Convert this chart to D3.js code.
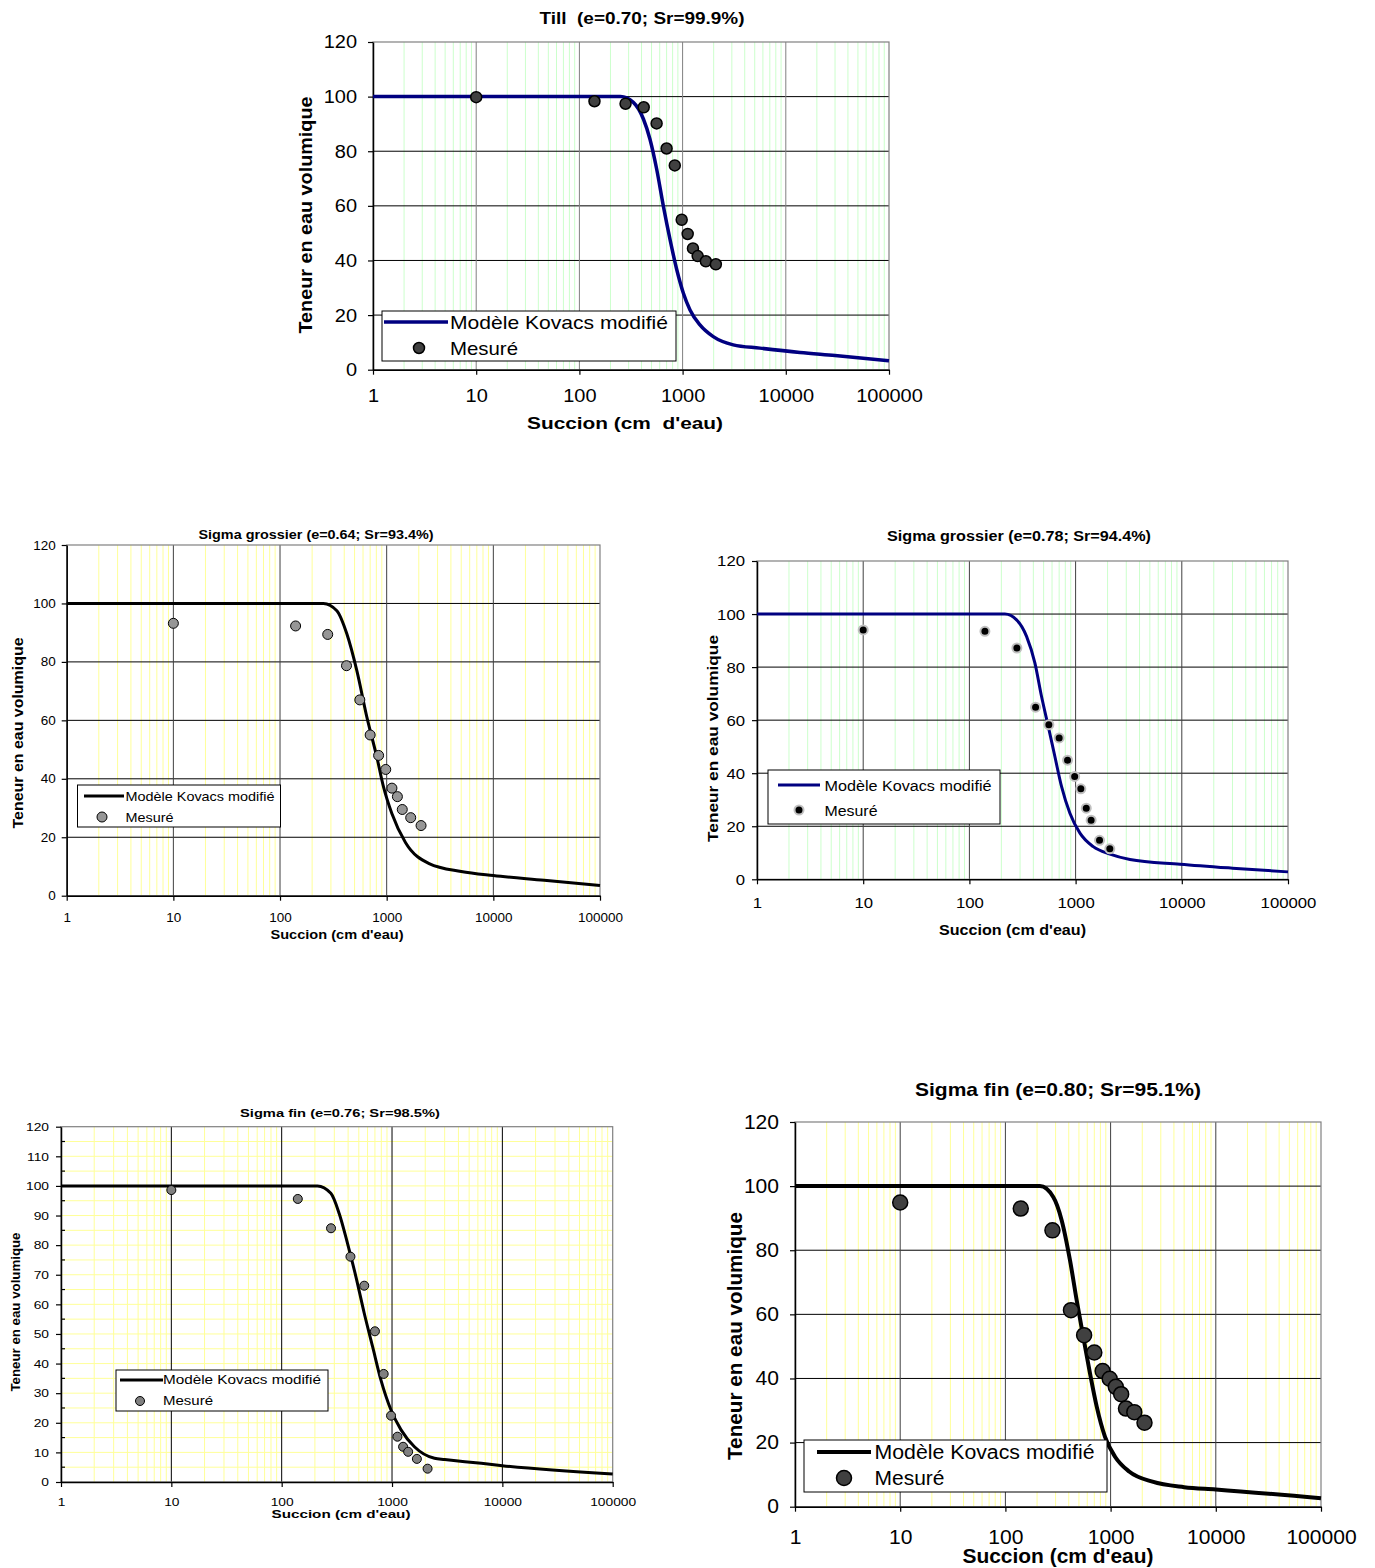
<!DOCTYPE html>
<html>
<head>
<meta charset="utf-8">
<script src="https://cdn.jsdelivr.net/npm/d3@7/dist/d3.min.js"></script>
<style>
  body { margin: 0; background: #fff; }
  svg { display: block; font-family: "Liberation Sans", Arial, sans-serif; }
  text { white-space: pre; }
</style>
</head>
<body>
<script>
// ---- data ----
var succion = [10, 140, 280, 420, 560, 700, 840, 980, 1120, 1260, 1400, 1680, 2100];

var mesureTill = [99.8, 98.3, 97.4, 96.1, 90.2, 81.0, 74.8, 54.9, 49.7, 44.4, 41.6, 39.7, 38.6];
var mesureGros64 = [93.2, 92.3, 89.4, 78.7, 67.0, 55.0, 48.0, 43.2, 36.8, 33.9, 29.5, 26.7, 24.0];
var mesureGros78 = [94.0, 93.5, 87.2, 64.9, 58.3, 53.3, 44.9, 38.8, 34.1, 26.8, 22.3, 14.7, 11.5];
var mesureFin76 = [98.6, 95.6, 85.7, 76.1, 66.3, 50.9, 36.5, 22.4, 15.3, 11.9, 10.2, 7.8, 4.5];
var mesureFin80 = [94.9, 93.0, 86.2, 61.3, 53.5, 48.1, 42.3, 39.9, 37.4, 35.1, 30.6, 29.5, 26.2];

var modeleTillX = [1, 250, 333, 417, 483, 561, 651, 755, 877, 1016, 1180, 1473, 1982, 3095, 5610, 13700, 30000, 100000];
var modeleTillY = [100, 100, 97.9, 91.8, 84.4, 73.4, 59.9, 47.7, 36.7, 28.1, 21.9, 16.4, 12.1, 9.1, 7.9, 6.3, 5.2, 3.3];

var modeleGros64X = [1, 255, 341, 423, 525, 652, 809, 934, 1118, 1500, 2500, 5000, 10000, 30000, 100000];
var modeleGros64Y = [100, 100, 97.5, 89.6, 77, 61.1, 47.4, 37.2, 28.1, 18.2, 11, 8.3, 6.9, 5.3, 3.5];

var modeleGros78X = [1, 216, 278, 346, 414, 478, 553, 638, 738, 884, 1099, 1466, 2104, 3250, 9620, 30000, 100000];
var modeleGros78Y = [100, 100, 97.8, 91.5, 81.5, 68.9, 57.6, 46.3, 34.9, 24.9, 17.4, 12.3, 9.5, 7.5, 5.7, 4.2, 2.8];

var modeleFin76X = [1, 211, 279, 332, 395, 471, 560, 667, 794, 979, 1207, 1596, 2426, 3000, 6440, 10000, 100000];
var modeleFin76Y = [100, 100, 97.5, 90.7, 80.6, 69.3, 57, 45.7, 34.4, 24.3, 17.6, 11.9, 8, 7.6, 6.3, 5.5, 2.7];

var modeleFin80X = [1, 213, 285, 343, 411, 476, 550, 637, 738, 885, 1102, 1500, 2500, 5000, 10000, 100000];
var modeleFin80Y = [100, 100, 96.6, 89.3, 76.9, 64.4, 53, 41.6, 31.2, 21.8, 15.6, 11, 7.8, 6.1, 5.4, 2.6];

var decades = [1, 10, 100, 1000, 10000, 100000];
var ticks20 = [0, 20, 40, 60, 80, 100, 120];
var ticks10 = [0, 10, 20, 30, 40, 50, 60, 70, 80, 90, 100, 110, 120];
var legendLine = "Modèle Kovacs modifié";
var legendDots = "Mesuré";
var xTitle = "Succion (cm d'eau)";
var yTitle = "Teneur en eau volumique";

var svg = d3.select("body").append("svg")
  .attr("width", 1375)
  .attr("height", 1568);

var charts = [
  { title: "Till  (e=0.70; Sr=99.9%)", xlab: "Succion (cm  d'eau)",
    mx: modeleTillX, my: modeleTillY, pts: mesureTill,
    left: 373, right: 889, top: 42, bottom: 369.7,
    titleX: 642, titleY: 18, titleFs: 16, titleW: 205,
    fs: 18.5, tsx: 1.08, yPad: 11, xPad: 14,
    xlabX: 625, xlabY: 423, xlabFs: 17, xlabW: 196,
    ylabX: 306, ylabY: 215, ylabFs: 17.5, ylabW: 237,
    yTicks: ticks20, hMajor: "#000", vMajor: "#808080", minor: "#ccffcc", hMinor: null,
    line: "#000080", lw: 3.5, dotFill: "#404040", dotStroke: "#000", dotSw: 1.5, r: 5.5,
    lg: { x: 382, y: 311, w: 294, h: 50, l0: 384, l1: 448, ly: 322, tx: 450, my: 348, mx: 419, fs: 19, w1: 218, w2: 68 } },
  { title: "Sigma grossier (e=0.64; Sr=93.4%)", xlab: xTitle,
    mx: modeleGros64X, my: modeleGros64Y, pts: mesureGros64,
    left: 66.7, right: 600, top: 545, bottom: 895.7,
    titleX: 316, titleY: 534, titleFs: 13, titleW: 235,
    fs: 12.5, tsx: 1.08, yPad: 6, xPad: 12,
    xlabX: 337, xlabY: 934, xlabFs: 13.5, xlabW: 133,
    ylabX: 18, ylabY: 733, ylabFs: 14, ylabW: 191,
    yTicks: ticks20, hMajor: "#000", vMajor: "#404040", minor: "#ffff99", hMinor: null,
    line: "#000", lw: 3, dotFill: "#969696", dotStroke: "#000", dotSw: 1, r: 5,
    lg: { x: 77.5, y: 785, w: 203, h: 42, l0: 84, l1: 124, ly: 796, tx: 125.5, my: 817, mx: 102, fs: 13, w1: 149, w2: 48 } },
  { title: "Sigma grossier (e=0.78; Sr=94.4%)", xlab: xTitle,
    mx: modeleGros78X, my: modeleGros78Y, pts: mesureGros78,
    left: 757, right: 1288, top: 561, bottom: 879.3,
    titleX: 1019, titleY: 536, titleFs: 14.5, titleW: 264,
    fs: 15.5, tsx: 1.08, yPad: 7, xPad: 13,
    xlabX: 1012.5, xlabY: 929, xlabFs: 15, xlabW: 147,
    ylabX: 712, ylabY: 738.5, ylabFs: 15.5, ylabW: 207,
    yTicks: ticks20, hMajor: "#000", vMajor: "#404040", minor: "#ccffcc", hMinor: null,
    line: "#000080", lw: 3, dotFill: "#000", dotStroke: "#c0c0c0", dotSw: 2, r: 4.5,
    lg: { x: 768, y: 770, w: 232, h: 54, l0: 778, l1: 820, ly: 785, tx: 824.5, my: 810, mx: 799, fs: 15.5, w1: 167, w2: 53 } },
  { title: "Sigma fin (e=0.76; Sr=98.5%)", xlab: xTitle,
    mx: modeleFin76X, my: modeleFin76Y, pts: mesureFin76,
    left: 61, right: 612.7, top: 1126.7, bottom: 1482,
    titleX: 340, titleY: 1113, titleFs: 11.5, titleW: 200,
    fs: 11.5, tsx: 1.2, yPad: 7, xPad: 11,
    xlabX: 341, xlabY: 1514, xlabFs: 11.5, xlabW: 139,
    ylabX: 16, ylabY: 1312, ylabFs: 12, ylabW: 159,
    yTicks: ticks10, hMajor: null, vMajor: "#000", minor: "#ffff99", hMinor: "#ffff99",
    line: "#000", lw: 3, dotFill: "#808080", dotStroke: "#000", dotSw: 1, r: 4.5,
    lg: { x: 116, y: 1370, w: 212, h: 41, l0: 120, l1: 163, ly: 1380, tx: 163, my: 1401, mx: 140, fs: 12, w1: 158, w2: 50 } },
  { title: "Sigma fin (e=0.80; Sr=95.1%)", xlab: xTitle,
    mx: modeleFin80X, my: modeleFin80Y, pts: mesureFin80,
    left: 795, right: 1321, top: 1122, bottom: 1506.7,
    titleX: 1058, titleY: 1089, titleFs: 18.5, titleW: 286,
    fs: 19.5, tsx: 1.08, yPad: 11, xPad: 18,
    xlabX: 1058, xlabY: 1556, xlabFs: 19.5, xlabW: 191,
    ylabX: 734.5, ylabY: 1336, ylabFs: 19.5, ylabW: 248,
    yTicks: ticks20, hMajor: "#000", vMajor: "#404040", minor: "#ffff99", hMinor: null,
    line: "#000", lw: 4, dotFill: "#404040", dotStroke: "#000", dotSw: 1.5, r: 7.5,
    lg: { x: 804, y: 1440, w: 303, h: 52, l0: 817, l1: 871, ly: 1452, tx: 874.5, my: 1478, mx: 844, fs: 20, w1: 220, w2: 70 } }
];

function isDecade(v) {
  return decades.indexOf(v) >= 0;
}

function stretchText(sel, fs, w, weight) {
  sel.style("font-size", fs + "px")
    .style("font-weight", weight || "normal")
    .attr("textLength", w)
    .attr("lengthAdjust", "spacingAndGlyphs");
}

function drawChart(c) {
  var g = svg.append("g");
  var x = d3.scaleLog().domain([1, 100000]).range([c.left, c.right]);
  var y = d3.scaleLinear().domain([0, 120]).range([c.bottom, c.top]);

  // minor gridlines
  if (c.hMinor) {
    g.selectAll(".hminor")
      .data(d3.range(5, 120, 5))
      .enter().append("line")
      .attr("x1", c.left).attr("x2", c.right)
      .attr("y1", d => y(d)).attr("y2", d => y(d))
      .attr("stroke", c.hMinor).attr("stroke-width", 1);
  }
  g.selectAll(".vminor")
    .data(x.ticks().filter(v => !isDecade(v)))
    .enter().append("line")
    .attr("x1", d => x(d)).attr("x2", d => x(d))
    .attr("y1", c.top).attr("y2", c.bottom)
    .attr("stroke", c.minor).attr("stroke-width", 1);

  // major gridlines
  if (c.hMajor) {
    g.selectAll(".hmajor")
      .data(c.yTicks.filter(v => v > 0 && v < 120))
      .enter().append("line")
      .attr("x1", c.left).attr("x2", c.right)
      .attr("y1", d => y(d)).attr("y2", d => y(d))
      .attr("stroke", c.hMajor).attr("stroke-width", 1);
  }
  g.selectAll(".vmajor")
    .data(decades.slice(1, 5))
    .enter().append("line")
    .attr("x1", d => x(d)).attr("x2", d => x(d))
    .attr("y1", c.top).attr("y2", c.bottom)
    .attr("stroke", c.vMajor).attr("stroke-width", 1);

  // frame
  g.append("rect")
    .attr("x", c.left).attr("y", c.top)
    .attr("width", c.right - c.left).attr("height", c.bottom - c.top)
    .attr("fill", "none").attr("stroke", "#808080").attr("stroke-width", 1.2);

  // axes
  var ya = g.append("g")
    .attr("transform", "translate(" + c.left + ",0)")
    .call(d3.axisLeft(y).tickValues(c.yTicks).tickSize(5).tickSizeOuter(0).tickPadding(c.yPad));
  var xa = g.append("g")
    .attr("transform", "translate(0," + c.bottom + ")")
    .call(d3.axisBottom(x).tickValues(decades).tickFormat(d3.format("d")).tickSize(5).tickSizeOuter(0).tickPadding(c.xPad));
  [ya, xa].forEach(function(a) {
    a.select(".domain").attr("stroke", "#000").attr("stroke-width", 1.5);
    a.selectAll(".tick line").attr("stroke", "#000").attr("stroke-width", 1.2);
    a.selectAll("text")
      .attr("fill", "#000")
      .attr("transform", "scale(" + c.tsx + ",1)")
      .style("font-family", "'Liberation Sans', Arial, sans-serif")
      .style("font-size", c.fs + "px");
  });
  // keep left labels right-aligned at the same spot after stretching
  ya.selectAll("text").attr("x", -(5 + c.yPad) / c.tsx);

  if (c.hMinor) {
    // small inside ticks at the half steps
    g.selectAll(".mtick")
      .data(d3.range(5, 120, 10))
      .enter().append("line")
      .attr("x1", c.left).attr("x2", c.left + 4)
      .attr("y1", d => y(d)).attr("y2", d => y(d))
      .attr("stroke", "#000").attr("stroke-width", 1.2);
  }

  // model curve
  var line = d3.line()
    .x(d => x(d[0]))
    .y(d => y(d[1]))
    .curve(d3.curveMonotoneX);
  g.append("path")
    .datum(d3.zip(c.mx, c.my))
    .attr("d", line)
    .attr("fill", "none")
    .attr("stroke", c.line)
    .attr("stroke-width", c.lw)
    .attr("stroke-linejoin", "round");

  // measured points
  g.selectAll(".pt")
    .data(d3.zip(succion, c.pts))
    .enter().append("circle")
    .attr("cx", d => x(d[0]))
    .attr("cy", d => y(d[1]))
    .attr("r", c.r)
    .attr("fill", c.dotFill)
    .attr("stroke", c.dotStroke)
    .attr("stroke-width", c.dotSw);

  // titles
  g.append("text")
    .attr("x", c.titleX).attr("y", c.titleY)
    .attr("text-anchor", "middle").attr("dominant-baseline", "central")
    .text(c.title)
    .call(stretchText, c.titleFs, c.titleW, "bold");
  g.append("text")
    .attr("x", c.xlabX).attr("y", c.xlabY)
    .attr("text-anchor", "middle").attr("dominant-baseline", "central")
    .text(c.xlab)
    .call(stretchText, c.xlabFs, c.xlabW, "bold");
  g.append("text")
    .attr("transform", "translate(" + c.ylabX + "," + c.ylabY + ") rotate(-90)")
    .attr("text-anchor", "middle").attr("dominant-baseline", "central")
    .text(yTitle)
    .call(stretchText, c.ylabFs, c.ylabW, "bold");

  // legend
  var lg = c.lg;
  var L = g.append("g");
  L.append("rect")
    .attr("x", lg.x).attr("y", lg.y).attr("width", lg.w).attr("height", lg.h)
    .attr("fill", "#fff").attr("stroke", "#000").attr("stroke-width", 1);
  L.append("line")
    .attr("x1", lg.l0).attr("x2", lg.l1).attr("y1", lg.ly).attr("y2", lg.ly)
    .attr("stroke", c.line).attr("stroke-width", c.lw);
  L.append("circle")
    .attr("cx", lg.mx).attr("cy", lg.my).attr("r", c.r)
    .attr("fill", c.dotFill).attr("stroke", c.dotStroke).attr("stroke-width", c.dotSw);
  L.append("text")
    .attr("x", lg.tx).attr("y", lg.ly).attr("dominant-baseline", "central")
    .text(legendLine)
    .call(stretchText, lg.fs, lg.w1);
  L.append("text")
    .attr("x", lg.tx).attr("y", lg.my).attr("dominant-baseline", "central")
    .text(legendDots)
    .call(stretchText, lg.fs, lg.w2);
}

charts.forEach(drawChart);
</script>
</body>
</html>
